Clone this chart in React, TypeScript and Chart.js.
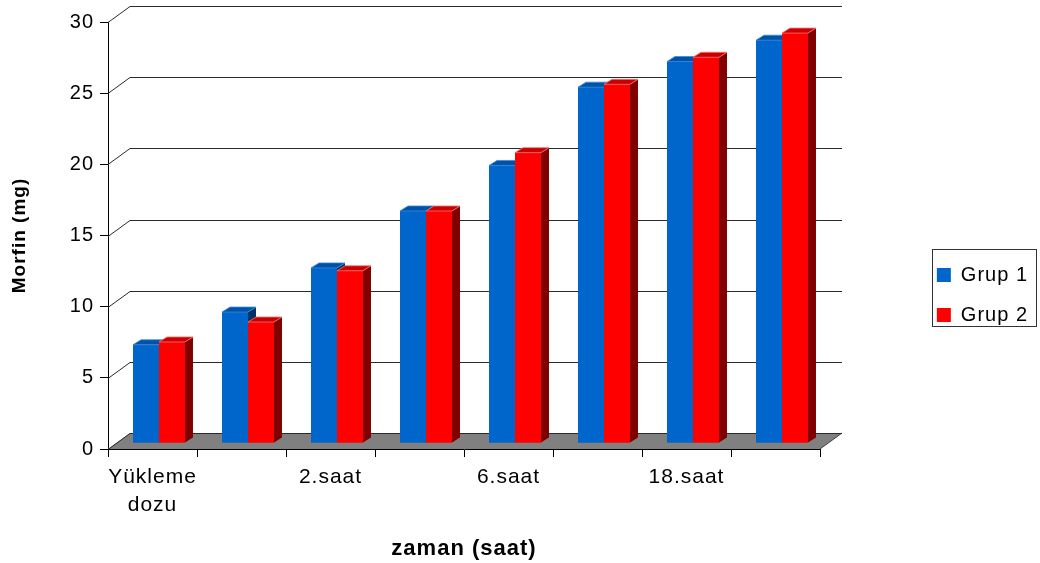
import React, { useEffect, useRef } from "react";
import { Chart, registerables } from "chart.js";

Chart.register(...registerables);

// ---- data ----
const categories: (string | string[])[] = [["Yükleme", "dozu"], "", "2.saat", "", "6.saat", "", "18.saat", ""];
const grup1 = [6.9, 9.2, 12.3, 16.3, 19.5, 25.0, 26.8, 28.3];
const grup2 = [7.1, 8.5, 12.1, 16.3, 20.4, 25.2, 27.1, 28.8];
const seriesNames = ["Grup 1", "Grup 2"];
const yMin = 0;
const yMax = 30;
const yStep = 5;
const yTitle = "Morfin (mg)";
const xTitle = "zaman (saat)";

// ---- styles ----
const FONT = "'Liberation Sans', Arial, Helvetica, sans-serif";
const frontColors = ["#0066CC", "#FF0000"];
const topColors = ["#0052A6", "#C80000"];
const sideColors = ["#003366", "#800000"];
const edgeColors = ["#3A8AE0", "#FF7070"];

const WALL_DX = 22;
const WALL_DY = 16;
const BAR_SHIFT_X = 6.5;
const BAR_SHIFT_Y = -6;
const BAR_DX = 8;
const BAR_DY = -5;
const CHART_RIGHT = 820;

const threeD = {
  id: "threeD",
  beforeUpdate(chart: any) {
    chart.ctx.letterSpacing = "1px";
  },
  beforeDraw(chart: any) {
    const ctx = chart.ctx;
    ctx.letterSpacing = "1px";
    ctx.save();
    ctx.fillStyle = "#ffffff";
    ctx.fillRect(0, 0, chart.width, chart.height);
    ctx.restore();
  },
  beforeDatasetsDraw(chart: any) {
    const ctx = chart.ctx;
    const { left, right } = chart.chartArea;
    const ys = chart.scales.y;
    const y0 = ys.getPixelForValue(0);
    ctx.save();
    // floor
    ctx.fillStyle = "#808080";
    ctx.beginPath();
    ctx.moveTo(left, y0);
    ctx.lineTo(left + WALL_DX, y0 - WALL_DY);
    ctx.lineTo(right + WALL_DX, y0 - WALL_DY);
    ctx.lineTo(right, y0);
    ctx.closePath();
    ctx.fill();
    ctx.strokeStyle = "#404040";
    ctx.lineWidth = 1;
    ctx.beginPath();
    ctx.moveTo(right, y0);
    ctx.lineTo(right + WALL_DX, y0 - WALL_DY);
    ctx.stroke();
    // back wall gridlines
    ctx.strokeStyle = "#2a2a2a";
    for (const t of ys.ticks) {
      const py = Math.round(ys.getPixelForValue(t.value)) + 0.5;
      ctx.beginPath();
      ctx.moveTo(left, py);
      ctx.lineTo(left + WALL_DX, py - WALL_DY);
      ctx.lineTo(right + WALL_DX, py - WALL_DY);
      ctx.stroke();
    }
    ctx.restore();
    ctx.save();
    ctx.translate(BAR_SHIFT_X, BAR_SHIFT_Y);
  },
  afterDatasetsDraw(chart: any) {
    const ctx = chart.ctx;
    for (let i = 0; i < chart.data.datasets.length; i++) {
      const meta = chart.getDatasetMeta(i);
      for (const el of meta.data) {
        const { x, y, base, width } = el as any;
        const xl = x - width / 2;
        const xr = x + width / 2;
        // front
        ctx.fillStyle = frontColors[i];
        ctx.fillRect(xl, y, width, base - y);
        // side
        ctx.fillStyle = sideColors[i];
        ctx.beginPath();
        ctx.moveTo(xr, y);
        ctx.lineTo(xr + BAR_DX, y + BAR_DY);
        ctx.lineTo(xr + BAR_DX, base + BAR_DY);
        ctx.lineTo(xr, base);
        ctx.closePath();
        ctx.fill();
        // top
        ctx.fillStyle = topColors[i];
        ctx.beginPath();
        ctx.moveTo(xl, y);
        ctx.lineTo(xl + BAR_DX, y + BAR_DY);
        ctx.lineTo(xr + BAR_DX, y + BAR_DY);
        ctx.lineTo(xr, y);
        ctx.closePath();
        ctx.fill();
        ctx.strokeStyle = edgeColors[i];
        ctx.lineWidth = 0.8;
        ctx.stroke();
      }
    }
    ctx.restore();
  },
  afterDraw(chart: any) {
    const legend = chart.legend;
    const hb = legend && legend.legendHitBoxes;
    if (!hb || hb.length < 2) return;
    const ctx = chart.ctx;
    const l = Math.round(hb[0].left - 5) + 0.5;
    const t = Math.round(hb[0].top - 16) + 0.5;
    const r = Math.round(hb[0].left + hb[0].width + 8) + 0.5;
    const b = t + 77;
    ctx.save();
    ctx.strokeStyle = "#333333";
    ctx.lineWidth = 1;
    ctx.strokeRect(l, t, r - l, b - t);
    ctx.restore();
  },
};

export default function App() {
  const ref = useRef<HTMLCanvasElement>(null);
  useEffect(() => {
    if (!ref.current) return;
    Chart.defaults.font.family = FONT;
    Chart.defaults.color = "#000000";
    const chart = new Chart(ref.current, {
      type: "bar",
      data: {
        labels: categories,
        datasets: [
          {
            label: seriesNames[0],
            data: grup1,
            backgroundColor: frontColors[0],
            borderWidth: 0,
            clip: false as any,
          },
          {
            label: seriesNames[1],
            data: grup2,
            backgroundColor: frontColors[1],
            borderWidth: 0,
            clip: false as any,
          },
        ],
      },
      options: {
        animation: false,
        responsive: false,
        devicePixelRatio: 1,
        layout: { padding: { left: 0, right: 2, top: 22, bottom: -5 } },
        datasets: {
          bar: { categoryPercentage: 0.584, barPercentage: 1 },
        },
        plugins: {
          tooltip: { enabled: false },
          legend: {
            position: "right",
            labels: {
              boxWidth: 14,
              boxHeight: 14,
              padding: 20,
              color: "#000",
              font: { size: 20, family: FONT },
            },
          },
        },
        scales: {
          x: {
            type: "category",
            grid: {
              display: true,
              drawOnChartArea: false,
              drawTicks: true,
              tickLength: 8,
              tickColor: "#000",
              offset: true,
            },
            border: { display: true, color: "#000", width: 1 },
            ticks: {
              autoSkip: false,
              maxRotation: 0,
              minRotation: 0,
              padding: 6,
              color: "#000",
              font: { size: 21, family: FONT, lineHeight: 1.35 },
            },
            title: {
              display: true,
              text: xTitle,
              color: "#000",
              font: { size: 22, weight: "bold", family: FONT, lineHeight: 1.2 },
              padding: { top: 0, bottom: 6 },
            },
            afterFit(scale: any) {
              scale.height = 119;
            },
          },
          y: {
            type: "linear",
            position: "left",
            min: yMin,
            max: yMax,
            ticks: {
              stepSize: yStep,
              padding: 6,
              color: "#000",
              font: { size: 20, family: FONT },
            },
            grid: {
              display: true,
              drawOnChartArea: false,
              drawTicks: true,
              tickLength: 8,
              tickColor: "#000",
            },
            border: { display: true, color: "#000", width: 1 },
            title: {
              display: true,
              text: yTitle,
              color: "#000",
              font: { size: 19, weight: "bold", family: FONT, lineHeight: 1.2 },
              padding: { top: 8, bottom: 0 },
            },
            afterFit(scale: any) {
              scale.width = 108;
            },
          },
          yR: {
            type: "linear",
            position: "right",
            display: true,
            grid: { display: false },
            border: { display: false },
            ticks: { display: false },
            afterFit(scale: any) {
              const lw = scale.chart.legend ? scale.chart.legend.width : 121;
              scale.width = Math.max(0, 1040 - 2 - lw - CHART_RIGHT);
            },
          },
        },
      },
      plugins: [threeD],
    } as any);
    return () => chart.destroy();
  }, []);
  return (
    <div style={{ position: "fixed", left: 0, top: 0, width: 1040, height: 563, background: "#fff" }}>
      <canvas ref={ref} width={1040} height={563} style={{ display: "block", width: 1040, height: 563 }} />
    </div>
  );
}
